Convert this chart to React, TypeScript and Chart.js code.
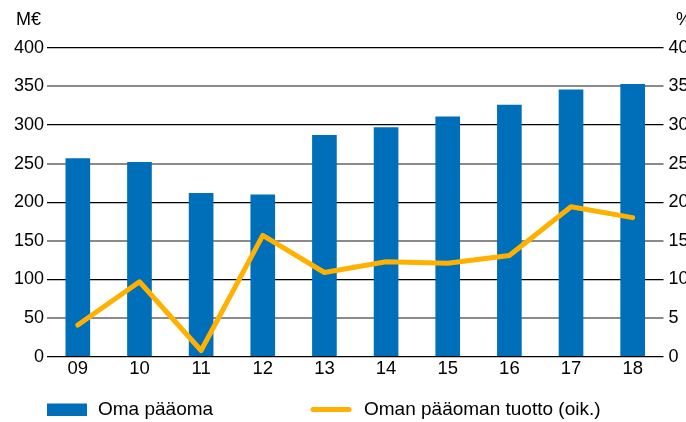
import React, { useEffect, useRef } from "react";
import { Chart, registerables } from "chart.js";

Chart.register(...registerables);

const categories = ["09", "10", "11", "12", "13", "14", "15", "16", "17", "18"];
const omaPaaoma = [257, 252, 212, 210, 287, 297, 311, 326, 346, 353];
const tuotto = [4.1, 9.7, 0.8, 15.7, 10.9, 12.3, 12.1, 13.1, 19.4, 18.0];
const leftUnit = "M€";
const rightUnit = "%";
const barLabel = "Oma pääoma";
const lineLabel = "Oman pääoman tuotto (oik.)";

const BLUE = "#006FB9";
const ORANGE = "#FFB000";
const FONT = "'Liberation Sans', Arial, sans-serif";

const overlayPlugin = {
  id: "overlay",
  afterDraw(chart: any) {
    const ctx = chart.ctx;
    ctx.save();
    ctx.fillStyle = "#000";
    ctx.font = `18px ${FONT}`;
    ctx.textBaseline = "alphabetic";
    ctx.textAlign = "left";
    ctx.fillText(leftUnit, 16, 25);
    ctx.fillText(rightUnit, 676, 25);
    // legend
    ctx.fillStyle = BLUE;
    ctx.fillRect(47, 403.5, 40, 12.5);
    ctx.strokeStyle = ORANGE;
    ctx.lineWidth = 5;
    ctx.lineCap = "round";
    ctx.beginPath();
    ctx.moveTo(313, 409.5);
    ctx.lineTo(349, 409.5);
    ctx.stroke();
    ctx.fillStyle = "#000";
    ctx.font = `19px ${FONT}`;
    ctx.textBaseline = "middle";
    ctx.fillText(barLabel, 98, 410);
    ctx.fillText(lineLabel, 364, 410);
    ctx.restore();
  },
};

export default function App() {
  const ref = useRef<HTMLCanvasElement | null>(null);
  useEffect(() => {
    document.body.style.margin = "0";
    const chart = new Chart(ref.current as HTMLCanvasElement, {
      type: "bar",
      data: {
        labels: categories,
        datasets: [
          {
            type: "line",
            label: lineLabel,
            data: tuotto,
            yAxisID: "y1",
            borderColor: ORANGE,
            backgroundColor: ORANGE,
            borderWidth: 5,
            pointRadius: 0,
            tension: 0,
            borderCapStyle: "round",
            borderJoinStyle: "round",
            order: 0,
          } as any,
          {
            type: "bar",
            label: barLabel,
            data: omaPaaoma,
            yAxisID: "y",
            backgroundColor: BLUE,
            barPercentage: 0.4,
            categoryPercentage: 1,
            order: 1,
          },
        ],
      },
      options: {
        animation: false,
        responsive: false,
        layout: { padding: { top: 47.7, left: 0, right: 0, bottom: 0 } },
        plugins: { legend: { display: false }, tooltip: { enabled: false } },
        scales: {
          x: {
            grid: { display: false, drawTicks: false },
            border: { display: false },
            ticks: { color: "#000", font: { family: FONT, size: 18.5 }, padding: 1 },
            afterFit(scale: any) {
              scale.height = 65.3;
            },
          },
          y: {
            position: "left",
            min: 0,
            max: 400,
            ticks: { stepSize: 50, color: "#000", font: { family: FONT, size: 18 }, padding: 3 },
            grid: {
              drawTicks: false,
              lineWidth: (c: any) => (c.tick && c.tick.value % 100 === 0 ? 1.3 : 2),
              color: (c: any) => (c.tick && c.tick.value % 100 === 0 ? "#000" : "#8a8a8a"),
            },
            border: { display: false },
            afterFit(scale: any) {
              scale.width = 47;
            },
          },
          y1: {
            position: "right",
            min: 0,
            max: 40,
            ticks: { stepSize: 5, color: "#000", font: { family: FONT, size: 18 }, padding: 5 },
            grid: { display: false, drawTicks: false },
            border: { display: false },
            afterFit(scale: any) {
              scale.width = 22.5;
            },
          },
        },
      },
      plugins: [overlayPlugin],
    });
    return () => chart.destroy();
  }, []);
  return (
    <div style={{ width: 686, height: 422 }}>
      <canvas ref={ref} width={686} height={422} style={{ display: "block" }} />
    </div>
  );
}
